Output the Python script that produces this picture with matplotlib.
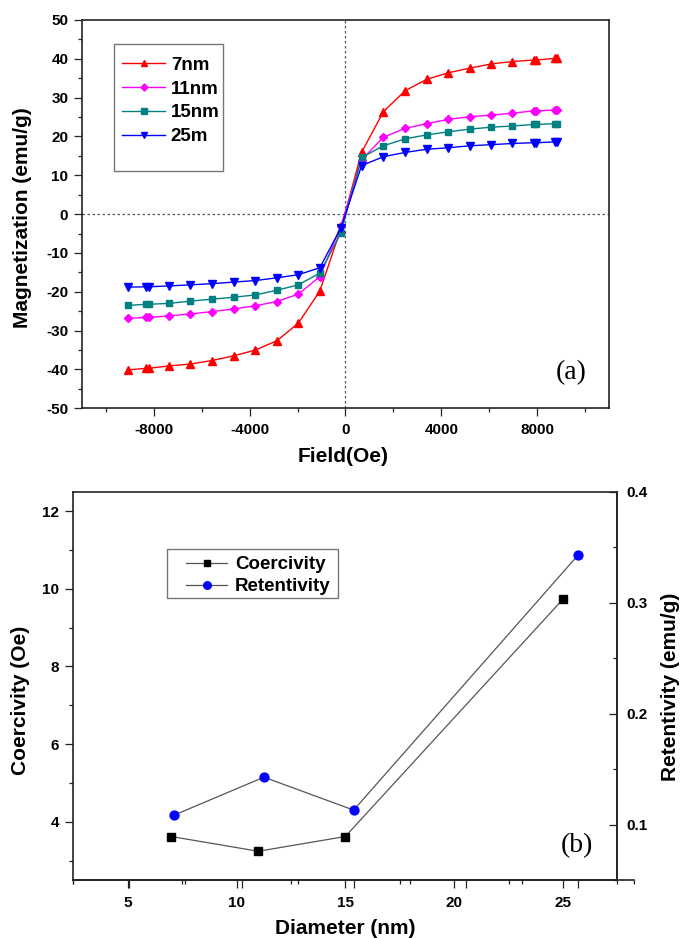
import matplotlib
matplotlib.use("Agg")
import matplotlib.pyplot as plt
from matplotlib.ticker import MultipleLocator
from matplotlib.patches import Rectangle

plt.rcParams['font.family'] = ['Liberation Sans', 'DejaVu Sans']
plt.rcParams['font.weight'] = 'bold'
plt.rcParams['axes.unicode_minus'] = False

# ---------------- data: panel (a) ----------------
field = [-9050, -8300, -8200, -7380, -6470, -5570, -4670, -3760, -2860, -1970, -1070, -190,
         670, 1580, 2490, 3380, 4280, 5180, 6080, 6960, 7850, 7950, 8720, 8820]
m_7nm = [-40.1, -39.7, -39.7, -39.1, -38.6, -37.7, -36.5, -35.0, -32.6, -28.1, -19.8, -3.7,
         15.9, 26.4, 31.8, 34.7, 36.4, 37.6, 38.7, 39.3, 39.7, 39.7, 40.1, 40.1]
m_11nm = [-26.8, -26.6, -26.6, -26.2, -25.7, -25.1, -24.4, -23.6, -22.5, -20.6, -16.1, -3.0,
          14.0, 19.8, 22.1, 23.3, 24.4, 25.1, 25.5, 26.0, 26.6, 26.6, 26.8, 26.8]
m_15nm = [-23.5, -23.2, -23.2, -23.0, -22.4, -21.9, -21.4, -20.8, -19.6, -18.2, -15.2, -4.8,
          14.6, 17.6, 19.4, 20.4, 21.2, 21.9, 22.4, 22.7, 23.1, 23.1, 23.3, 23.3]
m_25nm = [-18.8, -18.7, -18.7, -18.5, -18.2, -17.9, -17.5, -17.1, -16.4, -15.6, -13.8, -3.5,
          12.5, 14.8, 15.9, 16.7, 17.1, 17.6, 17.9, 18.2, 18.4, 18.4, 18.6, 18.6]
labels_a = ['7nm', '11nm', '15nm', '25m']

# ---------------- data: panel (b) ----------------
diameter = [7, 11, 15, 25]
coercivity = [3.62, 3.24, 3.62, 9.73]
retentivity = [0.1085, 0.1427, 0.113, 0.3427]

W, H = 681, 938
fig = plt.figure(figsize=(W / 100, H / 100), dpi=100)


def fx(px):
    return px / W


def fy(py):
    return 1 - py / H


SPINE_C = '#222222'
TICK_FS = 11
LABEL_FS = 15


def style_spines(ax):
    for s in ax.spines.values():
        s.set_color(SPINE_C)
        s.set_linewidth(1.2)


# ================= panel (a) =================
ax1 = fig.add_axes([fx(81.7), fy(408.3), (609.3 - 81.7) / W, 388.3 / H])
ax1.set_xlim(-11000, 11000)
ax1.set_ylim(-50, 50)
ax1.xaxis.set_major_locator(MultipleLocator(4000))
ax1.xaxis.set_minor_locator(MultipleLocator(2000))
ax1.yaxis.set_major_locator(MultipleLocator(10))
ax1.yaxis.set_minor_locator(MultipleLocator(5))
ax1.tick_params(which='both', direction='out', top=False, right=False, width=0.9, color=SPINE_C)
ax1.tick_params(which='major', length=5.5)
ax1.tick_params(which='minor', length=3.2)
ax1.tick_params(axis='y', which='major', pad=4.1, labelsize=TICK_FS)
ax1.tick_params(axis='x', which='major', pad=5, labelsize=TICK_FS)
style_spines(ax1)

ax1.axhline(0, color='#555555', lw=0.9, ls=(0, (2, 2)), zorder=1)
ax1.axvline(0, color='#555555', lw=0.9, ls=(0, (2, 2)), zorder=1)

series = [
    (m_7nm, '#FF0000', '^', 5.4),
    (m_11nm, '#FF00FF', 'D', 4.2),
    (m_15nm, '#008080', 's', 4.4),
    (m_25nm, '#0000FF', 'v', 5.4),
]
handles = []
for (vals, col, mk, ms), lab in zip(series, labels_a):
    h, = ax1.plot(field, vals, color=col, marker=mk, ms=ms, lw=1.0,
                  markeredgecolor=col, label=lab, zorder=3)
    handles.append(h)

leg1 = ax1.legend(handles=handles, loc='upper left',
                  bbox_to_anchor=(fx(122), fy(56.5)), bbox_transform=fig.transFigure,
                  frameon=False, borderpad=0, borderaxespad=0,
                  prop={'size': 13.5, 'weight': 'bold'},
                  handlelength=2.3, handletextpad=0.3, labelspacing=0.36,
                  markerscale=0.85)
fig.patches.append(Rectangle((fx(114.3), fy(171)), (223.3 - 114.3) / W, (171 - 44) / H,
                             transform=fig.transFigure, fill=False,
                             edgecolor='#777777', lw=1.0, zorder=5))

fig.text(fx(23), fy(217.5), 'Magnetization (emu/g)', rotation=90,
         ha='center', va='center', fontsize=LABEL_FS, fontweight='bold')
fig.text(fx(343), fy(456.7), 'Field(Oe)', ha='center', va='center',
         fontsize=LABEL_FS, fontweight='bold')
fig.text(fx(571), fy(373), '(a)', ha='center', va='center', fontsize=20,
         family=['Liberation Serif', 'DejaVu Serif'], fontweight='normal')

# ================= panel (b) =================
ax3 = fig.add_axes([fx(73.3), fy(880), (617.3 - 73.3) / W, 388.3 / H])
ax3.set_xlim(2.5, 27.5)
ax3.set_ylim(2.5, 12.5)
ax3.xaxis.set_major_locator(MultipleLocator(5))
ax3.xaxis.set_minor_locator(MultipleLocator(2.5))
ax3.yaxis.set_major_locator(MultipleLocator(2))
ax3.yaxis.set_minor_locator(MultipleLocator(1))
ax3.tick_params(which='both', direction='out', top=False, right=False, width=0.9, color=SPINE_C)
ax3.tick_params(which='major', length=5.5)
ax3.tick_params(which='minor', length=3.2)
ax3.tick_params(axis='y', which='major', pad=4.6, labelsize=TICK_FS)
ax3.tick_params(axis='x', which='major', pad=6.3, labelsize=TICK_FS)
style_spines(ax3)

ax4 = fig.add_axes([fx(73.3), fy(880), (634 - 73.3) / W, 388.3 / H])
ax4.patch.set_visible(False)
ax4.set_xlim(2.5, 27.5)
ax4.set_ylim(0.05, 0.4)
ax4.spines['left'].set_visible(False)
ax4.spines['top'].set_visible(False)
ax4.spines['right'].set_position(('axes', (617.3 - 73.3) / (634 - 73.3)))
style_spines(ax4)
ax4.xaxis.set_major_locator(MultipleLocator(5))
ax4.xaxis.set_minor_locator(MultipleLocator(2.5))
ax4.yaxis.set_major_locator(MultipleLocator(0.1))
ax4.yaxis.set_minor_locator(MultipleLocator(0.05))
ax4.yaxis.tick_right()
ax4.tick_params(axis='x', which='both', direction='out', labelbottom=False, top=False,
                width=0.9, color=SPINE_C)
ax4.tick_params(axis='x', which='major', length=5.5)
ax4.tick_params(axis='x', which='minor', length=3.2)
ax4.tick_params(axis='y', which='both', direction='in', left=False, right=True,
                width=0.9, color=SPINE_C)
ax4.tick_params(axis='y', which='major', length=5.5, pad=6.8, labelsize=TICK_FS)
ax4.tick_params(axis='y', which='minor', length=3.2)
ax4.yaxis.set_major_formatter(matplotlib.ticker.FuncFormatter(lambda v, p: f'{v:.1f}'))

hc, = ax3.plot(diameter, coercivity, color='#555555', lw=0.9, marker='s', ms=5.6,
               markerfacecolor='black', markeredgecolor='black', label='Coercivity', zorder=3)
hr, = ax4.plot(diameter, retentivity, color='#555555', lw=0.9, marker='o', ms=6.4,
               markerfacecolor='#0000FF', markeredgecolor='#0000FF', label='Retentivity', zorder=3)

leg2 = ax4.legend(handles=[hc, hr], loc='upper left',
                  bbox_to_anchor=(fx(186), fy(556)), bbox_transform=fig.transFigure,
                  frameon=False, borderpad=0, borderaxespad=0,
                  prop={'size': 13.5, 'weight': 'bold'},
                  handlelength=2.2, handletextpad=0.4, labelspacing=0.27,
                  markerscale=0.85)
fig.patches.append(Rectangle((fx(167), fy(598)), (338 - 167) / W, (598 - 549) / H,
                             transform=fig.transFigure, fill=False,
                             edgecolor='#777777', lw=1.0, zorder=5))

fig.text(fx(21), fy(700), 'Coercivity (Oe)', rotation=90, ha='center', va='center',
         fontsize=LABEL_FS, fontweight='bold')
fig.text(fx(671), fy(687), 'Retentivity (emu/g)', rotation=90, ha='center', va='center',
         fontsize=LABEL_FS, fontweight='bold')
fig.text(fx(345), fy(928), 'Diameter (nm)', ha='center', va='center',
         fontsize=LABEL_FS, fontweight='bold')
fig.text(fx(576.7), fy(845.5), '(b)', ha='center', va='center', fontsize=20,
         family=['Liberation Serif', 'DejaVu Serif'], fontweight='normal')

fig.savefig('out.png', dpi=100)
